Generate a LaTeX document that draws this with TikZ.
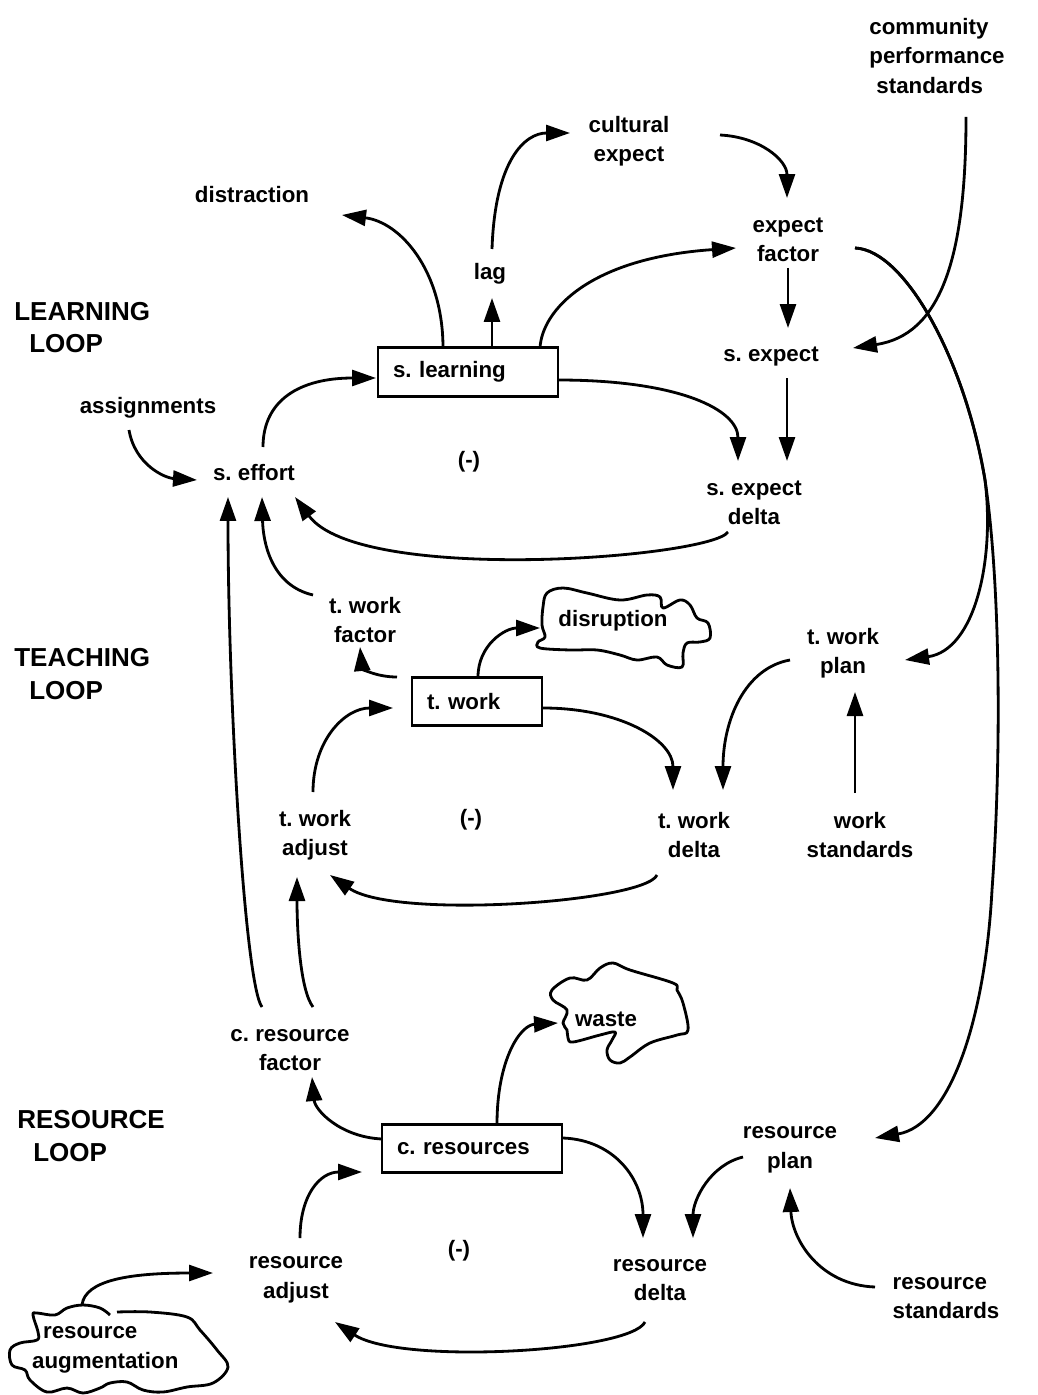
\documentclass[tikz,border=0pt]{standalone}
\usepackage{fontspec}
\setmainfont{Liberation Sans}
\usetikzlibrary{arrows.meta,calc}
\frenchspacing
\begin{document}
\begin{tikzpicture}[x=0.02cm,y=-0.02cm,
  lbl/.style={font=\fontsize{12.7}{16.8}\selectfont\bfseries, align=center, inner sep=1pt},
  looplbl/.style={font=\fontsize{14.8}{18.7}\selectfont\bfseries, align=left, anchor=west, inner sep=0pt},
  stock/.style={draw, line width=1.6pt, rectangle, minimum height=0.97cm, inner xsep=0.3cm, align=left, font=\fontsize{12.7}{16.8}\selectfont\bfseries},
  link/.style={line width=1.6pt, -{Triangle[length=0.48cm,width=0.32cm]}},
  cloudline/.style={line width=1.6pt, line join=round}]
\useasboundingbox (0,0) rectangle (1037,1395);

% ---------- nodes ----------
\node[lbl, align=left] (cps) at (937,56) {community\\performance\\\hspace*{0.14cm}standards};
\node[lbl] (cult) at (629,141) {cultural\\expect};
\node[lbl] (dist) at (252,195) {distraction};
\node[lbl] (ef) at (788,240) {expect\\factor};
\node[lbl] (lag) at (490,274) {lag};
\node[looplbl] (ll) at (14,327.5) {LEARNING\\\hspace*{0.3cm}LOOP};
\node[stock, text width=3.0cm] (sl) at (468,372) {s. learning};
\node[lbl] (sexp) at (771,357) {s. expect};
\node[lbl] (asg) at (148,408) {assignments};
\node[lbl] (m1) at (469,462) {(-)};
\node[lbl] (seff) at (254,473) {s. effort};
\node[lbl] (sed) at (754,503) {s. expect\\delta};
\node[lbl] (twf) at (365,620) {t. work\\factor};
\node[lbl] (dis) at (613,621) {disruption};
\node[lbl] (twp) at (843,653) {t. work\\plan};
\node[looplbl] (tl) at (14,674) {TEACHING\\\hspace*{0.3cm}LOOP};
\node[stock, text width=2.0cm] (tw) at (477,701.5) {t. work};
\node[lbl] (twa) at (315,835) {t. work\\adjust};
\node[lbl] (m2) at (471,820) {(-)};
\node[lbl] (twd) at (694,835) {t. work\\delta};
\node[lbl] (ws) at (860,835) {work\\standards};
\node[lbl] (waste) at (606,1019) {waste};
\node[lbl] (crf) at (290,1050) {c. resource\\factor};
\node[looplbl] (rl) at (17,1136) {RESOURCE\\\hspace*{0.32cm}LOOP};
\node[stock, text width=3.0cm] (cr) at (472,1148.5) {c. resources};
\node[lbl] (rp) at (790,1150) {resource\\plan};
\node[lbl] (m3) at (459,1251) {(-)};
\node[lbl] (ra) at (296,1280) {resource\\adjust};
\node[lbl] (rd) at (660,1280) {resource\\delta};
\node[lbl, align=left] (rs) at (946,1298) {resource\\standards};
\node[lbl, align=left, anchor=west] (aug) at (30,1350) {\hspace*{0.22cm}resource\\augmentation};

% ---------- clouds ----------
\draw[cloudline] plot[smooth cycle, tension=0.6] coordinates {(543,607) (547,593) (563,588) (587,593) (620,600) (647,595) (660,597) (663,608) (680,600) (690,605) (697,618) (708,623) (710,638) (700,642) (687,643) (683,653) (682,667) (667,665) (657,657) (637,660) (620,655) (597,650) (570,650) (540,648) (538,642) (545,637) (542,625)};
\draw[cloudline] plot[smooth cycle, tension=0.6] coordinates {(567,1010) (553,1000) (552,990) (570,978) (587,980) (600,968) (613,963) (630,970) (673,983) (677,990) (683,1003) (688,1030) (677,1035) (650,1043) (630,1057) (620,1063) (610,1060) (607,1050) (612,1040) (615,1032) (600,1035) (573,1042) (568,1038) (567,1030) (563,1023)};
\draw[cloudline] plot[smooth, tension=0.6] coordinates {(117,1312) (150,1312) (187,1317) (200,1330) (217,1350) (228,1367) (213,1383) (187,1387) (163,1392) (143,1390) (127,1382) (110,1383) (100,1388) (83,1393) (67,1388) (47,1392) (30,1380) (25,1370) (12,1365) (10,1350) (20,1343) (37,1340) (38,1332) (33,1315) (37,1313) (55,1315) (67,1308) (83,1305) (100,1308) (110,1315)};

% ---------- learning loop ----------
\draw[link] ($(lag)+(2,-25)$) .. controls (495,160) and (525,133) .. ($(cult)+(-59,-8)$);
\draw[link] ($(cult)+(91,-6)$) .. controls (760,137) and (787,160) .. ($(ef)+(-1,-42)$);
\draw[link] ($(sl)+(-25,-24)$) .. controls (443,270) and (400,222) .. ($(dist)+(90,20)$);
\draw[link] ($(sl)+(24,-24)$) -- ($(lag)+(2,24)$);
\draw[link] ($(sl)+(72,-24)$) .. controls (542,310) and (590,258) .. ($(ef)+(-52,8)$);
\draw[link] ($(ef)+(0,28)$) -- ($(sexp)+(17,-29)$);
\draw[link] ($(cps)+(29,61)$) .. controls (966,260) and (940,335) .. ($(sexp)+(82,-9)$);
\draw[link] ($(sl)+(90,8)$) .. controls (680,380) and (738,410) .. ($(sed)+(-16,-42)$);
\draw[link] ($(sexp)+(16,21)$) -- ($(sed)+(33,-42)$);
\draw[link] ($(sed)+(-26,29)$) .. controls (710,558) and (360,585) .. ($(seff)+(41,24)$);
\draw[link] ($(asg)+(-19,22)$) .. controls (135,465) and (165,478) .. ($(seff)+(-57,7)$);
\draw[link] ($(seff)+(9,-26)$) .. controls (263,400) and (300,378) .. ($(sl)+(-92,6)$);

% ---------- long links from expect factor ----------
\draw[link] ($(ef)+(67,8)$) .. controls (905,250) and (965,360) .. (985,480)
  .. controls (995,560) and (975,650) .. ($(twp)+(62,7)$);
\draw[link] ($(ef)+(67,8)$) .. controls (905,250) and (965,360) .. (985,480)
  .. controls (1000,580) and (1002,750) .. (992,890)
  .. controls (985,1020) and (950,1125) .. ($(rp)+(85,-12)$);

% ---------- teaching loop ----------
\draw[link] ($(twf)+(-52,-25)$) .. controls (270,585) and (263,540) .. ($(seff)+(8,24)$);
\draw[link] ($(crf)+(-28,-43)$) .. controls (245,985) and (228,700) .. ($(seff)+(-26,24)$);
\draw[link] ($(crf)+(23,-43)$) .. controls (300,990) and (297,930) .. ($(twa)+(-18,42)$);
\draw[link] ($(tw)+(-80,-24.5)$) .. controls (375,677) and (362,668) .. ($(twf)+(-5,27)$);
\draw[link] ($(tw)+(1,-24.5)$) .. controls (478,645) and (505,628) .. ($(dis)+(-73,7)$);
\draw[link] ($(twa)+(-2,-43)$) .. controls (313,740) and (345,708) .. ($(tw)+(-84,6.5)$);
\draw[link] ($(tw)+(66,6.5)$) .. controls (620,708) and (673,740) .. ($(twd)+(-21,-45)$);
\draw[link] ($(twp)+(-53,7)$) .. controls (745,668) and (723,720) .. ($(twd)+(29,-45)$);
\draw[link] ($(ws)+(-5,-42)$) -- ($(twp)+(12,39)$);
\draw[link] ($(twd)+(-37,40)$) .. controls (645,902) and (395,920) .. ($(twa)+(15,40)$);

% ---------- resource loop ----------
\draw[link] ($(cr)+(-90,-9.5)$) .. controls (340,1137) and (315,1110) .. ($(crf)+(22,27)$);
\draw[link] ($(cr)+(25,-24.5)$) .. controls (497,1060) and (520,1025) .. ($(waste)+(-48,4)$);
\draw[link] ($(ra)+(4,-42)$) .. controls (300,1195) and (320,1172) .. ($(cr)+(-110,23.5)$);
\draw[link] ($(cr)+(91,-10.5)$) .. controls (615,1140) and (643,1180) .. ($(rd)+(-17,-42)$);
\draw[link] ($(rp)+(-47,7)$) .. controls (710,1165) and (693,1200) .. ($(rd)+(33,-42)$);
\draw[link] ($(rs)+(-71,-11)$) .. controls (820,1285) and (792,1240) .. ($(rp)+(0,38)$);
\draw[link] ($(rd)+(-15,42)$) .. controls (630,1352) and (400,1365) .. ($(ra)+(39,42)$);
\draw[link] ($(aug.west)+(52,-45)$) .. controls (85,1280) and (130,1273) .. ($(ra)+(-83,-7)$);
\end{tikzpicture}
\end{document}
